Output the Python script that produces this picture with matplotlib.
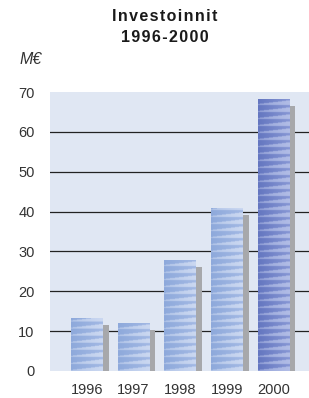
import numpy as np
import matplotlib
matplotlib.use("Agg")
import matplotlib.pyplot as plt
from matplotlib.colors import to_rgb

years = ["1996", "1997", "1998", "1999", "2000"]
values = [13.2, 12.0, 27.8, 40.8, 68.3]
yticks = [0, 10, 20, 30, 40, 50, 60, 70]
title_lines = ["Investoinnit", "1996-2000"]
unit = "M€"

W, H = 309, 398
fig = plt.figure(figsize=(W / 100, H / 100), dpi=100)
ax = fig.add_axes([50 / W, 27 / H, 259 / W, 279 / H])
ax.set_facecolor("#E0E7F3")
for s in ax.spines.values():
    s.set_visible(False)

x = np.arange(len(years))
bw = 0.676
shadow_dx = 0.13
shadow_dy = 1.75

for yv in yticks[1:-1]:
    ax.axhline(yv, color="#222222", lw=0.9, zorder=1)

# shadows
ax.bar(x + shadow_dx, np.array(values) - shadow_dy, width=bw, color="#A7A8AB", zorder=2)

bars = ax.bar(x, values, width=bw, color="none", zorder=3)


def stripe_img(h_units, left, right, stripe):
    ncols = 32
    nrows = max(int(h_units * 4 * 2), 2)
    xf = np.linspace(0, 1, ncols)[None, :]
    ypx = (np.arange(nrows)[::-1] / 2.0)[:, None]
    phase = (ypx % 7.0) / 7.0
    left = np.array(to_rgb(left)); right = np.array(to_rgb(right)); stripe = np.array(to_rgb(stripe))
    base = left[None, None, :] * (1 - xf[..., None]) + right[None, None, :] * xf[..., None]
    base = np.broadcast_to(base, (nrows, ncols, 3)).copy()
    mask = phase < (0.12 + 0.5 * xf)
    st = np.broadcast_to(stripe, (nrows, ncols, 3))
    alpha = (0.55 + 0.35 * xf)[..., None]
    out = np.where(mask[..., None], base * (1 - alpha) + st * alpha, base)
    return out


for i, b in enumerate(bars):
    x0 = b.get_x(); w = b.get_width(); h = b.get_height()
    if i == len(bars) - 1:
        img = stripe_img(h, "#6476C0", "#8797D4", "#B6C1E8")
    else:
        img = stripe_img(h, "#8EA9DB", "#A3B9E4", "#CFDBF2")
    im = ax.imshow(img, extent=[x0, x0 + w, 0, h], aspect="auto", zorder=3,
                   interpolation="bilinear")
    im.set_clip_path(b)

ax.set_xlim(-0.79, 4.76)
ax.set_ylim(0, 70)

ax.set_yticks(yticks)
ax.set_yticklabels([str(v) for v in yticks])
ax.set_xticks(x)
ax.set_xticklabels(years)
ax.tick_params(length=0, labelsize=10.5, colors="#333333")
ax.tick_params(axis="y", pad=11)
ax.tick_params(axis="x", pad=9)
for lab in ax.get_xticklabels() + ax.get_yticklabels():
    lab.set_fontfamily("Liberation Sans")

hair = "\u200A"
title = "\n".join(hair.join(line) for line in title_lines)
fig.text(165 / W, 1 - 27 / H, title, ha="center", va="center", fontsize=11.5,
         fontweight="bold", family=["Liberation Sans", "DejaVu Sans"], color="#1A1A1A",
         linespacing=1.45, multialignment="center")
fig.text(19 / W, 1 - 60 / H, unit, ha="left", va="center", fontsize=11.5,
         style="italic", family="Liberation Sans", color="#333333")

fig.savefig("out.png", dpi=100)
